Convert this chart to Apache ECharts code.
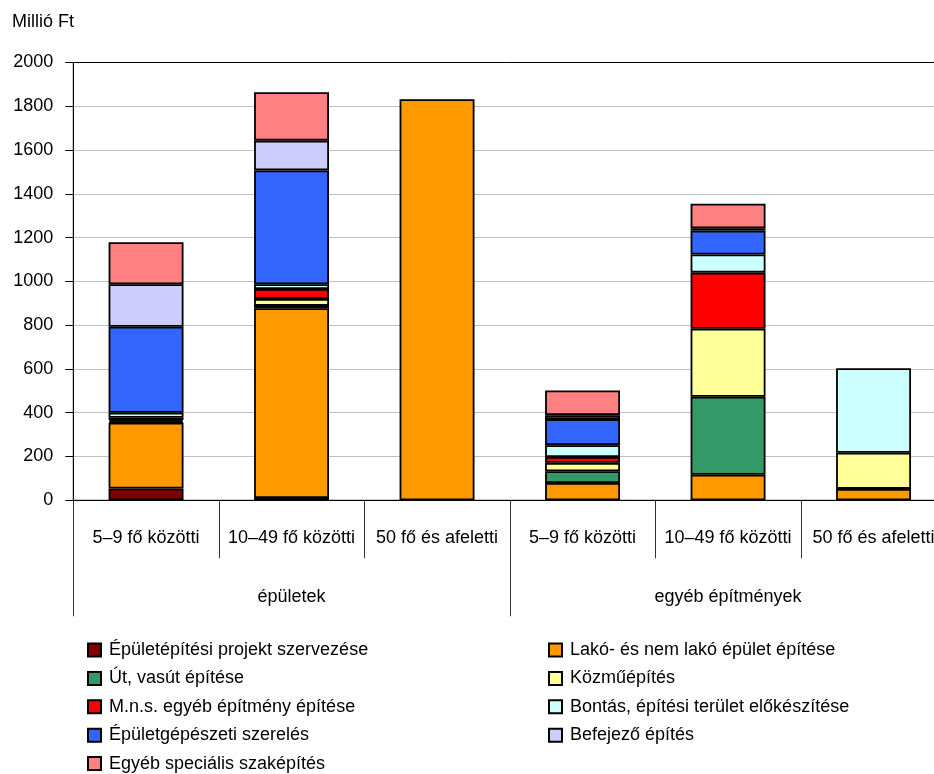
<!DOCTYPE html>
<html>
<head>
<meta charset="utf-8">
<script src="https://cdn.jsdelivr.net/npm/echarts@6/dist/echarts.min.js"></script>
<style>
html,body{margin:0;padding:0;background:#fff;}
#chart{width:934px;height:774px;}
</style>
</head>
<body>
<div id="chart"></div>
<script>
// ---- data ----
const categories = ['5–9 fő közötti', '10–49 fő közötti', '50 fő és afeletti',
                    '5–9 fő közötti', '10–49 fő közötti', '50 fő és afeletti'];
const groups = ['épületek', 'egyéb építmények'];
const yTicks = [0, 200, 400, 600, 800, 1000, 1200, 1400, 1600, 1800, 2000];

const seriesNames = [
  'Épületépítési projekt szervezése',
  'Lakó- és nem lakó épület építése',
  'Út, vasút építése',
  'Közműépítés',
  'M.n.s. egyéb építmény építése',
  'Bontás, építési terület előkészítése',
  'Épületgépészeti szerelés',
  'Befejező építés',
  'Egyéb speciális szaképítés'
];
const projektSzervezes   = [54, 10, 0, 0, 0, 0];
const lakoEpulet         = [300, 867, 1832, 79, 117, 52];
const utVasut            = [5, 11, 0, 54, 356, 0];
const kozmu              = [8, 32, 0, 38, 311, 165];
const mnsEgyeb           = [10, 45, 0, 27, 256, 0];
const bontas             = [23, 22, 0, 54, 83, 386];
const epuletgepeszet     = [393, 520, 0, 119, 109, 0];
const befejezo           = [194, 136, 0, 18, 11, 0];
const egyebSpecialis     = [192, 221, 0, 113, 112, 0];

const seriesValues = [projektSzervezes, lakoEpulet, utVasut, kozmu, mnsEgyeb,
                      bontas, epuletgepeszet, befejezo, egyebSpecialis];
const colors = ['#800000', '#FF9900', '#339966', '#FFFF99', '#FF0000',
                '#CCFFFF', '#3366FF', '#CCCCFF', '#FF8080'];

const FONT = "'Liberation Sans', Arial, sans-serif";

const chart = echarts.init(document.getElementById('chart'), null, {renderer: 'canvas'});

const series = seriesNames.map((name, i) => ({
  name: name,
  type: 'bar',
  stack: 'total',
  barWidth: '51.5%',
  xAxisIndex: 0,
  data: seriesValues[i].map(v => (v === 0 ? '-' : v)),
  itemStyle: {color: colors[i], borderColor: '#000', borderWidth: 1.8},
  emphasis: {disabled: true}
}));

const legendCommon = {
  orient: 'vertical',
  icon: 'rect',
  itemWidth: 13,
  itemHeight: 13,
  itemGap: 10.4,
  top: 641,
  padding: 0,
  height: 133,
  selectedMode: false,
  textStyle: {fontFamily: FONT, fontSize: 18, color: '#000', lineHeight: 18, padding: [0, 0, 0, 3]}
};

chart.setOption({
  animation: false,
  backgroundColor: '#fff',
  textStyle: {fontFamily: FONT},
  title: {
    text: 'Millió Ft',
    left: 12, top: 13, padding: 0,
    textStyle: {fontFamily: FONT, fontSize: 18, fontWeight: 'normal', color: '#000'}
  },
  legend: [
    Object.assign({}, legendCommon, {left: 87, data: [seriesNames[0], seriesNames[2], seriesNames[4], seriesNames[6], seriesNames[8]]}),
    Object.assign({}, legendCommon, {left: 548, data: [seriesNames[1], seriesNames[3], seriesNames[5], seriesNames[7]]})
  ],
  grid: {
    left: 73.3, width: 873, top: 62.5, height: 437.8,
    outerBoundsMode: 'none',
    show: true, borderColor: '#000', borderWidth: 1, backgroundColor: 'transparent',
    containLabel: false
  },
  xAxis: [
    {
      type: 'category',
      data: categories,
      position: 'bottom',
      axisLine: {show: true, lineStyle: {color: '#000', width: 1}},
      axisTick: {show: true, interval: 0, length: 58, lineStyle: {color: '#333', width: 1}},
      axisLabel: {interval: 0, margin: 29, fontSize: 18, color: '#000', fontFamily: FONT},
      splitLine: {show: false}
    },
    {
      type: 'category',
      data: groups,
      position: 'bottom',
      axisLine: {show: false},
      axisTick: {show: true, interval: 0, length: 116, lineStyle: {color: '#333', width: 1}},
      axisLabel: {interval: 0, margin: 88, fontSize: 18, color: '#000', fontFamily: FONT},
      splitLine: {show: false}
    }
  ],
  yAxis: {
    type: 'value',
    min: yTicks[0],
    max: yTicks[yTicks.length - 1],
    interval: yTicks[1] - yTicks[0],
    axisLine: {show: true, lineStyle: {color: '#000', width: 1}},
    axisTick: {show: true, length: 8, lineStyle: {color: '#000', width: 1}},
    axisLabel: {margin: 20, fontSize: 18, color: '#000', fontFamily: FONT, formatter: v => String(v)},
    splitLine: {show: true, showMinLine: false, showMaxLine: false, lineStyle: {color: '#c0c0c0', width: 1}}
  },
  series: series
});
</script>
</body>
</html>
